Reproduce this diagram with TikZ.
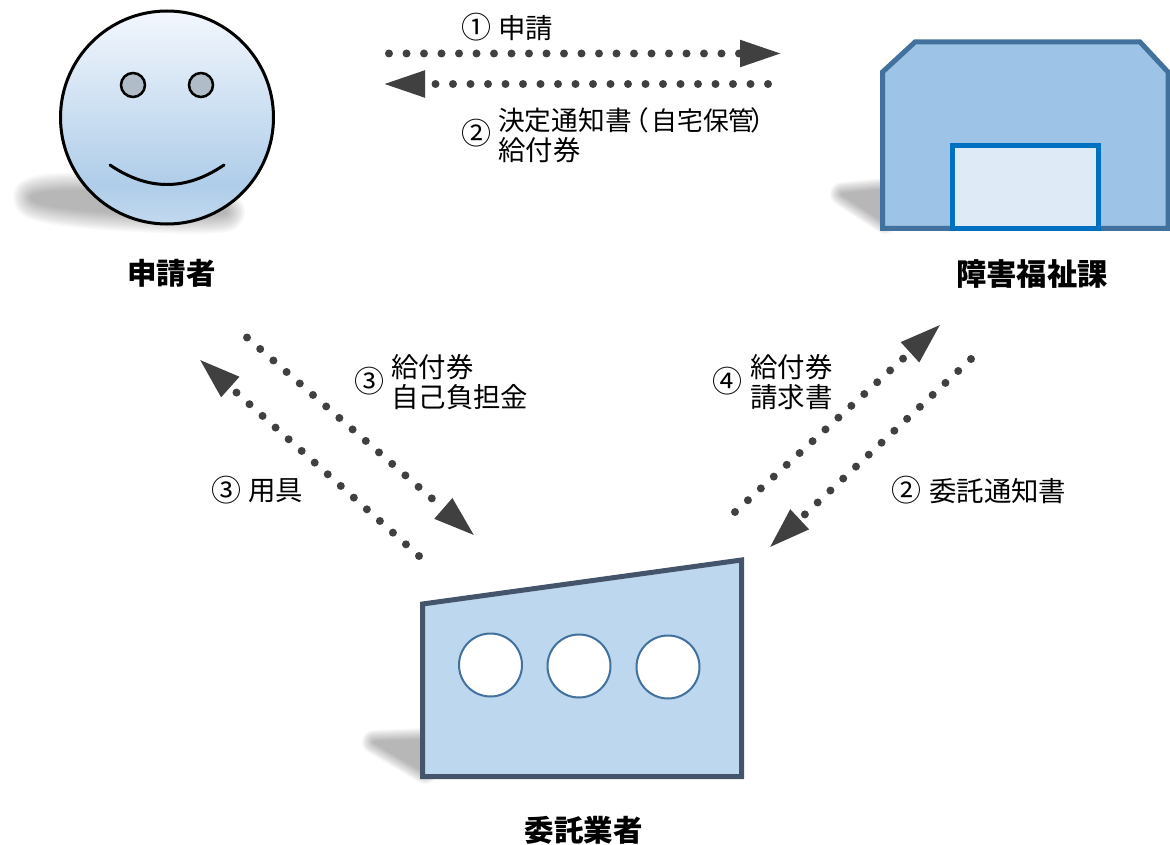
\documentclass[tikz,border=0pt]{standalone}
\usepackage{fontspec}
\setmainfont{Noto Sans CJK JP}
\usetikzlibrary{arrows.meta}
\definecolor{dotc}{HTML}{404040}
\definecolor{bldfill}{HTML}{9DC3E6}
\definecolor{bldline}{HTML}{41719C}
\definecolor{doorfill}{HTML}{DEEAF6}
\definecolor{doorline}{HTML}{0070C0}
\definecolor{facfill}{HTML}{BDD7EE}
\definecolor{facline}{HTML}{44546A}
\definecolor{eyefill}{HTML}{B0BCC8}
\definecolor{faceA}{HTML}{C2D9EF}
\definecolor{faceB}{HTML}{AFCDE9}
\definecolor{faceC}{HTML}{F3F7FD}
\pgfdeclareverticalshading{faceshade}{100bp}{
  color(0bp)=(faceA);
  color(25bp)=(faceA);
  color(34bp)=(faceB);
  color(75bp)=(faceC);
  color(100bp)=(faceC)}
\tikzset{
  flow/.style={draw=dotc,line width=8pt,line cap=round,dash pattern=on 0pt off 17.5pt,
    -{Triangle[length=42pt,width=25pt,fill=dotc]}},
  lab/.style={inner sep=0pt,anchor=west,font=\fontsize{27.4}{30}\selectfont,align=left},
  num/.style={inner sep=0pt,anchor=center,font=\fontsize{30}{30}\selectfont},
  actor/.style={inner sep=0pt,anchor=center,font=\fontsize{29.5}{30}\selectfont\bfseries},
  hole/.style={circle,draw=bldline,fill=white,line width=2pt,minimum size=63pt,inner sep=0pt},
  eye/.style={circle,draw=black,fill=eyefill,line width=2.5pt,minimum size=24pt,inner sep=0pt}
}
% soft shadow: one translucent group per growing outline, widest first
\newcommand{\softshadow}[2]{%
  \foreach \i in {0,...,13}{
    \begin{scope}[transparency group,opacity=.022]
    \path[draw=black,fill=black,line join=round,line width={#2*(1-\i/14)*1pt}] #1;
    \end{scope}
  }}
\begin{document}
\begin{tikzpicture}[x=1pt,y=-1pt]
\useasboundingbox (0,0) rectangle (1170,845);
% shadows
\softshadow{(32,197) .. controls (42,190) and (100,190) .. (170,194) -- (226,212) .. controls (228,214) and (200,216) .. (160,214) .. controls (100,212) and (30,206) .. (32,197) -- cycle}{38}
\softshadow{(885,190) -- (842,194) -- (885,222) -- cycle}{24}
\softshadow{(425,740) -- (374,742) -- (425,772) -- cycle}{24}
% applicant
\node[circle,minimum size=213pt,inner sep=0pt,draw=black,line width=3pt,shading=faceshade] (face) at (167,117.5) {};
\node[eye] (eyeL) at (133,85) {};
\node[eye] (eyeR) at (201,85) {};
\coordinate (smileL) at (110,165);
\coordinate (smileR) at (224,165);
\draw[line width=3pt,line cap=round] (smileL) .. controls (148,191) and (186,191) .. (smileR);
% office
\draw[fill=bldfill,draw=bldline,line width=5pt,line join=miter] (882.5,228.5) -- (882.5,72) -- (915,42) -- (1140,42) -- (1168,72) -- (1168,228.5) -- cycle;
\draw[fill=doorfill,draw=doorline,line width=5pt] (952.5,145.5) rectangle (1098,228.5);
% contractor
\draw[fill=facfill,draw=facline,line width=5pt,line join=miter] (422.5,604) -- (741.5,560) -- (741.5,776.5) -- (422.5,776.5) -- cycle;
\node[hole] (h1) at (490.5,665) {};
\node[hole] (h2) at (579,666) {};
\node[hole] (h3) at (668,667) {};
% actor names
\node[actor] (applicant) at (171.5,273) {申請者};
\node[actor,font=\fontsize{30.3}{30}\selectfont\bfseries] (office) at (1032,274) {障害福祉課};
\node[actor] (contractor) at (583.5,830) {委託業者};
% connectors
\coordinate (a1s) at (389,53.5); \coordinate (a1e) at (782,53.5);
\coordinate (a2s) at (768,84);   \coordinate (a2e) at (383,84);
\coordinate (a3s) at (247,337.5);  \coordinate (a3e) at (475,536);
\coordinate (a4s) at (419,556);  \coordinate (a4e) at (199,359);
\coordinate (a5s) at (735,512);  \coordinate (a5e) at (941,324);
\coordinate (a6s) at (971,359);  \coordinate (a6e) at (769,548);
\draw[flow] (a1s) -- (a1e);
\draw[flow] (a2s) -- (a2e);
\draw[flow] (a3s) -- (a3e);
\draw[flow] (a4s) -- (a4e);
\draw[flow] (a5s) -- (a5e);
\draw[flow] (a6s) -- (a6e);
% labels
\node[num] (n1) at (476,27) {①};
\node[lab] (l1) at (498,28) {申請};
\node[num] (n2) at (476,133) {②};
\node[lab] (l2) at (498,135) {{\fontsize{26.7}{30}\selectfont 決定通知書\hspace{-9pt}\symbol{"FF08}\hspace{2pt}{\fontsize{25.8}{30}\selectfont 自宅保管}\hspace{-4pt}\symbol{"FF09}}\\給付券};
\node[num] (n3) at (369,381) {③};
\node[lab] (l3) at (391,382) {給付券\\自己負担金};
\node[num] (n4) at (727,381) {④};
\node[lab] (l4) at (750,382) {給付券\\請求書};
\node[num] (n5) at (226,490) {③};
\node[lab] (l5) at (248,491) {用具};
\node[num] (n6) at (906,490) {②};
\node[lab] (l6) at (929,491) {委託通知書};
\end{tikzpicture}
\end{document}
